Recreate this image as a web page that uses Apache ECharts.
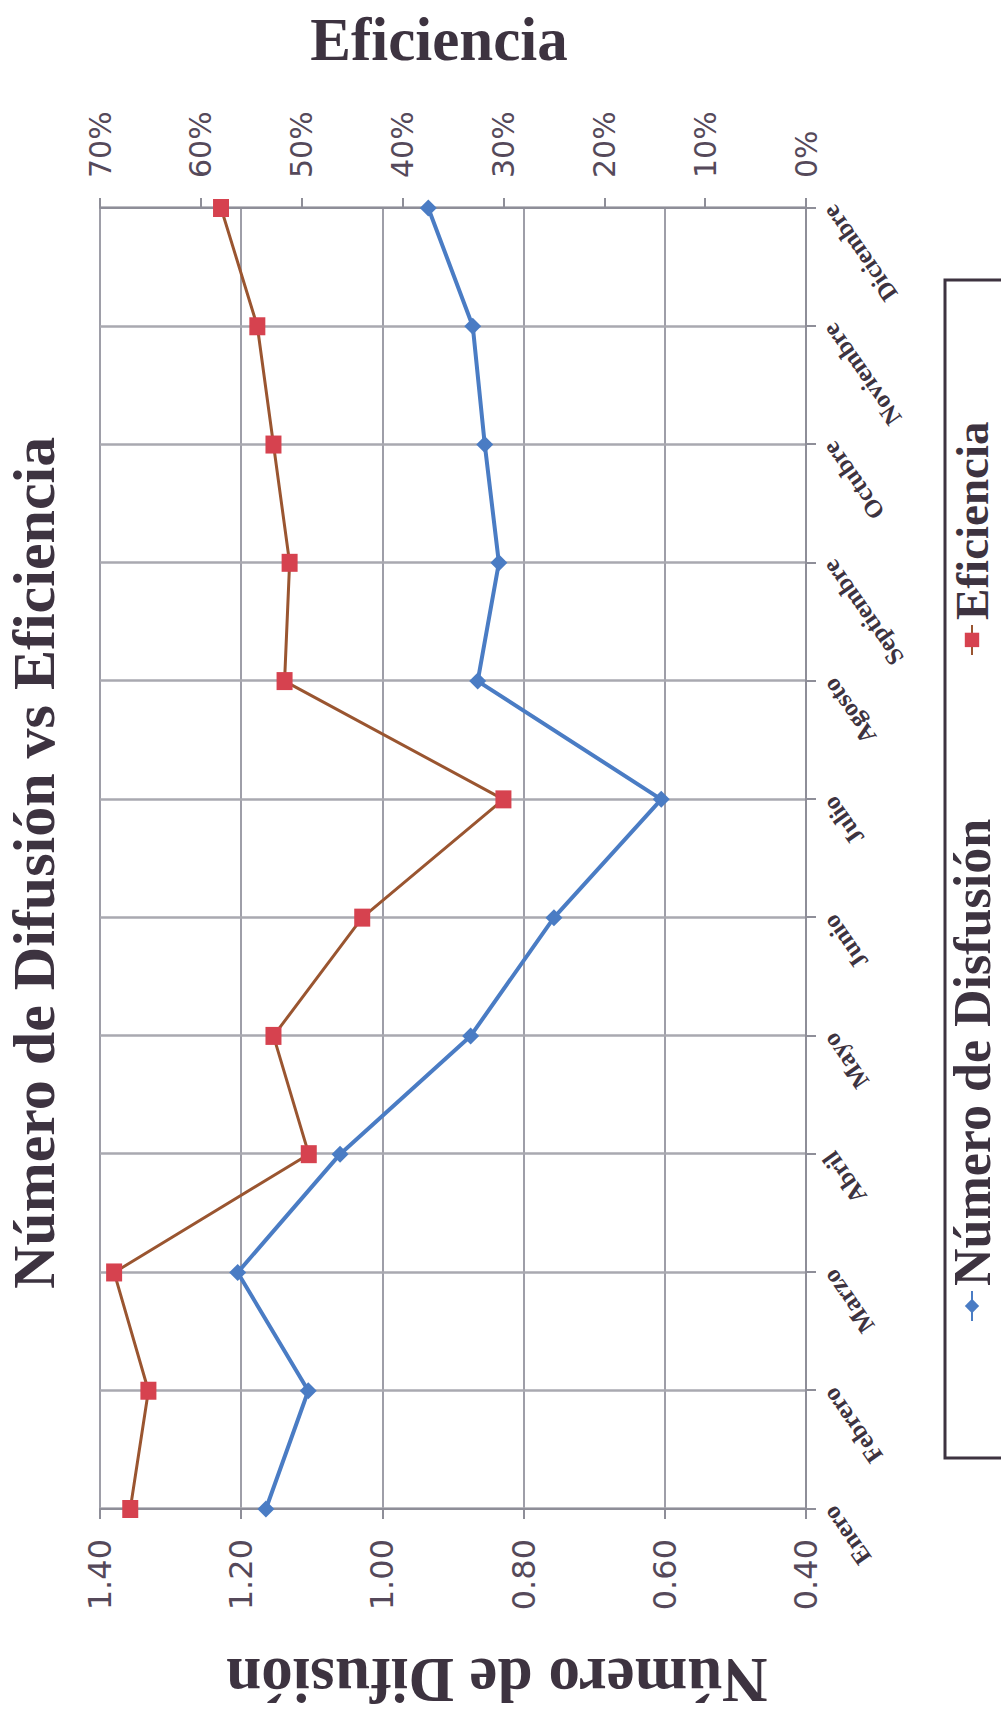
<!DOCTYPE html>
<html>
<head>
<meta charset="utf-8">
<script src="https://cdn.jsdelivr.net/npm/echarts@6/dist/echarts.min.js"></script>
<style>
  html, body { margin: 0; padding: 0; width: 1001px; height: 1719px; overflow: hidden; background: #fff; }
  /* The chart is laid out landscape and turned a quarter turn to stand on the page */
  #wrap {
    position: absolute; left: 0; top: 0;
    width: 1719px; height: 1001px;
    transform-origin: 0 0;
    transform: translateY(1719px) rotate(-90deg);
  }
  #chart { width: 1719px; height: 1001px; }
</style>
</head>
<body>
<div id="wrap"><div id="chart"></div></div>
<script>
const meses = ['Enero', 'Febrero', 'Marzo', 'Abril', 'Mayo', 'Junio', 'Julio',
               'Agosto', 'Septiembre', 'Octubre', 'Noviembre', 'Diciembre'];
const numeroDifusion = [1.165, 1.105, 1.205, 1.06, 0.875, 0.757, 0.605, 0.865, 0.835, 0.855, 0.872, 0.935];
const eficiencia = [67.0, 65.2, 68.6, 49.3, 52.8, 44.0, 30.0, 51.7, 51.2, 52.8, 54.4, 58.0];

const ink = '#3d3340';
const labelInk = '#55495a';
const serif = '"Liberation Serif", "Times New Roman", serif';
const sans = '"DejaVu Sans", Verdana, sans-serif';

const chart = echarts.init(document.getElementById('chart'), null, { renderer: 'svg' });

chart.setOption({
  backgroundColor: '#ffffff',
  animation: false,
  title: {
    text: 'Número de Difusión vs Eficiencia',
    left: 425,
    top: -1,
    textStyle: { fontFamily: serif, fontWeight: 'bold', fontSize: 60, color: ink }
  },
  grid: { left: 193, right: 208, top: 100, bottom: 195, containLabel: false },
  legend: {
    left: 392,
    top: 941,
    itemGap: 163,
    itemWidth: 30,
    itemHeight: 18,
    textStyle: { fontFamily: serif, fontWeight: 'bold', color: ink },
    data: [
      { name: 'Número de Disfusión', textStyle: { fontSize: 52 } },
      { name: 'Eficiencia', textStyle: { fontSize: 47 } }
    ]
  },
  graphic: [{
    type: 'rect',
    z: -1,
    shape: { x: 261, y: 945, width: 1178, height: 120 },
    style: { fill: 'none', stroke: ink, lineWidth: 3 }
  }],
  xAxis: {
    type: 'category',
    data: meses,
    boundaryGap: false,
    axisLine: { show: true, lineStyle: { color: '#8e8e98', width: 2 } },
    axisTick: { show: true, length: 10, lineStyle: { color: '#8e8e98', width: 2 } },
    axisLabel: { rotate: 35, margin: 22, fontFamily: serif, fontWeight: 'bold', fontSize: 25, color: ink },
    splitLine: { show: true, lineStyle: { color: '#a9a9b0', width: 2.5 } }
  },
  yAxis: [{
    type: 'value',
    min: 0.4,
    max: 1.4,
    interval: 0.2,
    position: 'left',
    name: 'Número de Difusión',
    nameLocation: 'middle',
    nameRotate: 90,
    nameGap: 139,
    nameTextStyle: {
      fontFamily: serif, fontWeight: 'bold', fontSize: 63, color: ink,
      padding: [0, 88, 0, 0]
    },
    axisLine: { show: true, lineStyle: { color: '#8e8e98', width: 2 } },
    axisTick: { show: true, length: 10, lineStyle: { color: '#8e8e98', width: 2 } },
    axisLabel: {
      margin: 30, fontFamily: sans, fontSize: 32, color: labelInk,
      formatter: v => v.toFixed(2)
    },
    splitLine: { show: true, lineStyle: { color: '#9e9ea8', width: 2 } }
  }, {
    type: 'value',
    min: 0,
    max: 70,
    interval: 10,
    position: 'right',
    name: 'Eficiencia',
    nameLocation: 'middle',
    nameRotate: -90,
    nameGap: 138,
    nameTextStyle: {
      fontFamily: serif, fontWeight: 'bold', fontSize: 61, color: ink,
      padding: [0, 28, 0, 0]
    },
    axisLine: { show: true, lineStyle: { color: '#8e8e98', width: 2 } },
    axisTick: { show: true, length: 10, lineStyle: { color: '#8e8e98', width: 2 } },
    axisLabel: { margin: 30, fontFamily: sans, fontSize: 30, color: labelInk, formatter: '{value}%' },
    splitLine: { show: false }
  }],
  series: [{
    name: 'Número de Disfusión',
    type: 'line',
    yAxisIndex: 0,
    data: numeroDifusion,
    symbol: 'diamond',
    symbolSize: 17,
    lineStyle: { color: '#4a7cc4', width: 4 },
    itemStyle: { color: '#4a7cc4' }
  }, {
    name: 'Eficiencia',
    type: 'line',
    yAxisIndex: 1,
    data: eficiencia,
    symbol: 'rect',
    symbolSize: [18, 16],
    lineStyle: { color: '#9a5530', width: 3 },
    itemStyle: { color: '#d6424f' }
  }]
});
</script>
</body>
</html>
